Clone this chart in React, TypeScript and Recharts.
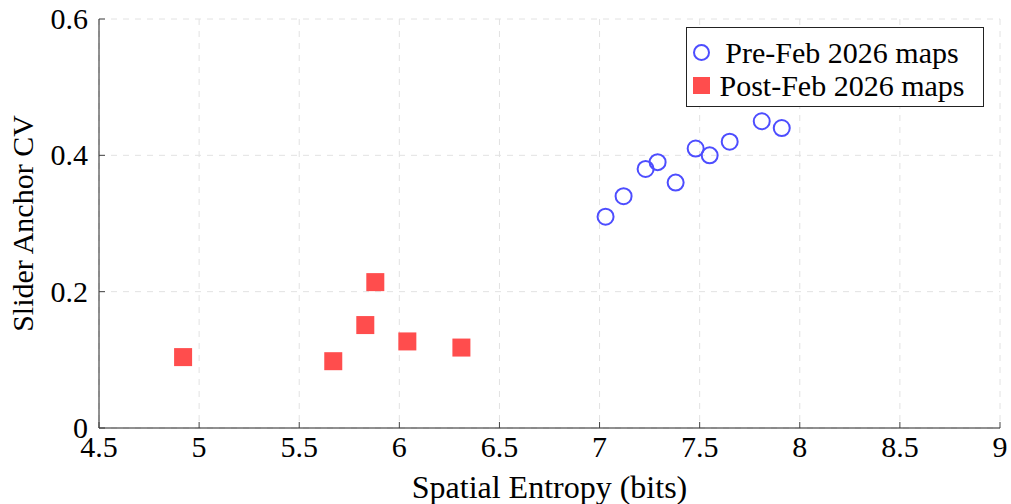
import React from "react";
import {
  ScatterChart,
  Scatter,
  XAxis,
  YAxis,
  CartesianGrid,
  Label,
} from "recharts";

const preEntropy = [7.03, 7.12, 7.23, 7.29, 7.38, 7.48, 7.55, 7.65, 7.81, 7.91];
const preCV = [0.31, 0.34, 0.38, 0.39, 0.36, 0.41, 0.4, 0.42, 0.45, 0.44];
const postEntropy = [4.92, 5.67, 5.83, 5.88, 6.04, 6.31];
const postCV = [0.104, 0.098, 0.151, 0.214, 0.127, 0.118];

const xTicks = [4.5, 5, 5.5, 6, 6.5, 7, 7.5, 8, 8.5, 9];
const yTicks = [0, 0.2, 0.4, 0.6];
const seriesNames = ["Pre-Feb 2026 maps", "Post-Feb 2026 maps"];

const BLUE = "#4d4dff";
const RED = "#ff4d4d";
const FONT = "'Liberation Serif', 'Times New Roman', serif";

const preData = preEntropy.map((x, i) => ({ x, y: preCV[i] }));
const postData = postEntropy.map((x, i) => ({ x, y: postCV[i] }));

const BottomTick = (props: any) => {
  const { x, y, payload } = props;
  return (
    <g>
      <line x1={x} x2={x} y1={y} y2={y - 6} stroke="#444" />
      <text x={x} y={y + 29} textAnchor="middle" fontSize={30} fontFamily={FONT} fill="#000">
        {String(payload.value)}
      </text>
    </g>
  );
};

const LeftTick = (props: any) => {
  const { x, y, payload } = props;
  return (
    <g>
      <line x1={x} x2={x + 6} y1={y} y2={y} stroke="#444" />
      <text x={x - 11} y={y + 10} textAnchor="end" fontSize={30} fontFamily={FONT} fill="#000">
        {String(payload.value)}
      </text>
    </g>
  );
};

const TopTick = (props: any) => {
  const { x, y } = props;
  return <line x1={x} x2={x} y1={y} y2={y + 6} stroke="#444" />;
};

const RightTick = (props: any) => {
  const { x, y } = props;
  return <line x1={x} x2={x - 6} y1={y} y2={y} stroke="#444" />;
};

const Circle = (props: any) => (
  <circle cx={props.cx} cy={props.cy} r={8} fill="none" stroke={BLUE} strokeWidth={2} />
);

const Square = (props: any) => (
  <rect x={props.cx - 9} y={props.cy - 9} width={18} height={18} fill={RED} />
);

const LegendBox = () => (
  <div
    style={{
      position: "absolute",
      left: 686,
      top: 27,
      width: 298,
      height: 80,
      border: "1px solid #222",
      background: "#fff",
      fontFamily: FONT,
      fontSize: 30,
      boxSizing: "border-box",
      paddingTop: 8,
    }}
  >
    {seriesNames.map((name, i) => (
      <div key={name} style={{ display: "flex", alignItems: "center", height: 33 }}>
        <div style={{ width: 17, marginLeft: 6, display: "flex", justifyContent: "center" }}>
          {i === 0 ? (
            <div
              style={{
                width: 13,
                height: 13,
                borderRadius: "50%",
                border: `2px solid ${BLUE}`,
              }}
            />
          ) : (
            <div style={{ width: 17, height: 17, background: RED }} />
          )}
        </div>
        <div style={{ width: 264, textAlign: "center", lineHeight: "33px" }}>{name}</div>
      </div>
    ))}
  </div>
);

export default function App() {
  return (
    <div style={{ position: "absolute", left: 0, top: 0, width: 1011, height: 504, background: "#fff" }}>
      <ScatterChart
        width={1011}
        height={504}
        margin={{ top: 19, right: 11, left: 0, bottom: 0 }}
      >
        <CartesianGrid stroke="#e2e2e2" strokeDasharray="6 6" />
        <XAxis
          type="number"
          dataKey="x"
          domain={[4.5, 9]}
          ticks={xTicks}
          allowDataOverflow
          height={76}
          tickSize={0}
          tickMargin={0}
          tick={<BottomTick />}
          axisLine={{ stroke: "#222" }}
          tickLine={false}
        >
          <Label
            value="Spatial Entropy (bits)"
            position="insideBottom"
            offset={6}
            style={{ fontFamily: FONT, fontSize: 32, fill: "#000" }}
          />
        </XAxis>
        <XAxis
          xAxisId="top"
          orientation="top"
          type="number"
          dataKey="x"
          domain={[4.5, 9]}
          ticks={xTicks}
          allowDataOverflow
          height={0}
          tickSize={0}
          tickMargin={0}
          tick={<TopTick />}
          axisLine={{ stroke: "#222" }}
          tickLine={false}
        />
        <YAxis
          type="number"
          dataKey="y"
          domain={[0, 0.6]}
          ticks={yTicks}
          allowDataOverflow
          width={99}
          tickSize={0}
          tickMargin={0}
          tick={<LeftTick />}
          axisLine={{ stroke: "#222" }}
          tickLine={false}
        >
          <Label
            value="Slider Anchor CV"
            angle={-90}
            position="insideLeft"
            offset={22}
            style={{ fontFamily: FONT, fontSize: 30, fill: "#000", textAnchor: "middle" }}
          />
        </YAxis>
        <YAxis
          yAxisId="right"
          orientation="right"
          type="number"
          dataKey="y"
          domain={[0, 0.6]}
          ticks={yTicks}
          allowDataOverflow
          width={0}
          tickSize={0}
          tickMargin={0}
          tick={<RightTick />}
          axisLine={{ stroke: "#222" }}
          tickLine={false}
        />
        <Scatter name={seriesNames[0]} data={preData} shape={<Circle />} isAnimationActive={false} />
        <Scatter name={seriesNames[1]} data={postData} shape={<Square />} isAnimationActive={false} />
      </ScatterChart>
      <LegendBox />
    </div>
  );
}
